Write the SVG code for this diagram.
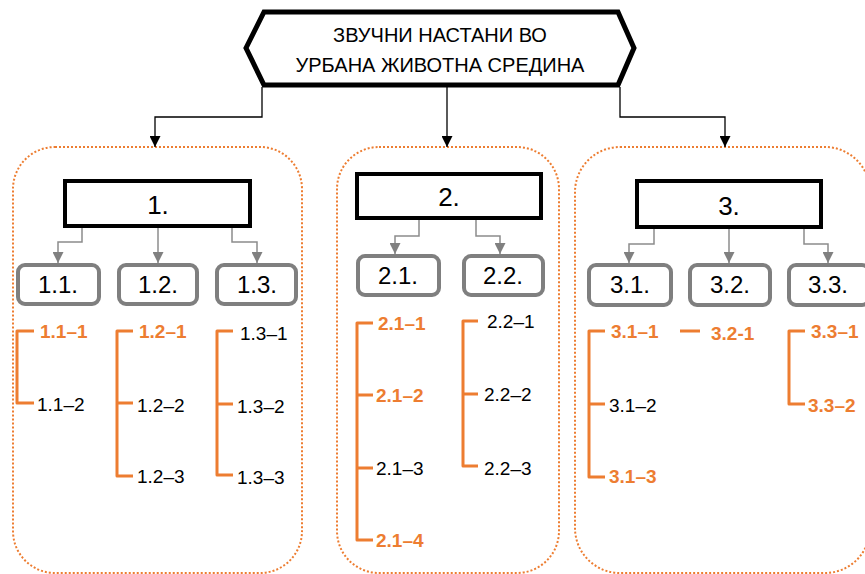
<svg xmlns="http://www.w3.org/2000/svg" width="865" height="574" viewBox="0 0 865 574">
<defs>
<style>
text{font-family:"Liberation Sans",Arial,sans-serif;fill:#000}
.cont{fill:none;stroke:#ED7D31;stroke-width:2;stroke-dasharray:2 2}
.main{fill:#fff;stroke:#000;stroke-width:4}
.sub{fill:#fff;stroke:#7F7F7F;stroke-width:4}
.blk{fill:none;stroke:#000;stroke-width:1.3}
.gry{fill:none;stroke:#8C8C8C;stroke-width:1.5}
.br{fill:none;stroke:#ED7D31;stroke-width:3;stroke-linejoin:round}
.t1{font-size:26px;text-anchor:middle}
.t2{font-size:24px;text-anchor:middle}
.l{font-size:19px}
.o{font-weight:bold;fill:#ED7D31}
</style>
<marker id="ab" viewBox="0 0 10 10" refX="10" refY="5" markerWidth="12" markerHeight="11" markerUnits="userSpaceOnUse" orient="auto"><path d="M0,0 L10,5 L0,10 z" fill="#000"/></marker>
<marker id="ag" viewBox="0 0 10 10" refX="10" refY="5" markerWidth="11" markerHeight="11" markerUnits="userSpaceOnUse" orient="auto"><path d="M0,0 L10,5 L0,10 z" fill="#808080"/></marker>
</defs>
<rect width="865" height="574" fill="#fff"/>
<g id="containers">
<rect class="cont" x="13" y="147" width="289" height="426" rx="42"/>
<rect class="cont" x="337" y="147" width="222" height="426" rx="42"/>
<rect class="cont" x="575" y="147" width="295" height="426" rx="45"/>
</g>
<g id="connectors">
<path class="blk" d="M262,87 V117 H155 V147" marker-end="url(#ab)"/>
<path class="blk" d="M447,87 V147" marker-end="url(#ab)"/>
<path class="blk" d="M620,87 V117 H725 V147" marker-end="url(#ab)"/>
<path class="gry" d="M82,228 V242 H58 V263" marker-end="url(#ag)"/>
<path class="gry" d="M158,228 V263" marker-end="url(#ag)"/>
<path class="gry" d="M232,228 V242 H257 V263" marker-end="url(#ag)"/>
<path class="gry" d="M419,220 V236 H395 V254" marker-end="url(#ag)"/>
<path class="gry" d="M476,220 V236 H500 V254" marker-end="url(#ag)"/>
<path class="gry" d="M654,229 V244 H629 V263" marker-end="url(#ag)"/>
<path class="gry" d="M729,229 V263" marker-end="url(#ag)"/>
<path class="gry" d="M804,229 V244 H828 V263" marker-end="url(#ag)"/>
</g>
<g id="root">
<polygon points="246,48 264,12 618,12 634,48 618,85 264,85" fill="#fff" stroke="#000" stroke-width="5"/>
<text x="440" y="42" font-size="20" text-anchor="middle">ЗВУЧНИ НАСТАНИ ВО</text>
<text x="440" y="72" font-size="20" text-anchor="middle">УРБАНА ЖИВОТНА СРЕДИНА</text>
</g>
<g id="n1"><rect class="main" x="65" y="181" width="185" height="45"/><text class="t1" x="158" y="214">1.</text></g>
<g id="n2"><rect class="main" x="357" y="174" width="184" height="44"/><text class="t1" x="449" y="206">2.</text></g>
<g id="n3"><rect class="main" x="637" y="181" width="184" height="46"/><text class="t1" x="729" y="215">3.</text></g>
<g id="n1-1"><rect class="sub" x="18" y="265" width="81" height="39" rx="7"/><text class="t2" x="58" y="293">1.1.</text></g>
<g id="n1-2"><rect class="sub" x="119" y="265" width="78" height="39" rx="7"/><text class="t2" x="158" y="293">1.2.</text></g>
<g id="n1-3"><rect class="sub" x="217" y="265" width="79" height="39" rx="7"/><text class="t2" x="257" y="293">1.3.</text></g>
<g id="n2-1"><rect class="sub" x="358" y="256" width="81" height="39" rx="7"/><text class="t2" x="398" y="284">2.1.</text></g>
<g id="n2-2"><rect class="sub" x="464" y="256" width="79" height="39" rx="7"/><text class="t2" x="503" y="284">2.2.</text></g>
<g id="n3-1"><rect class="sub" x="589" y="265" width="82" height="40" rx="7"/><text class="t2" x="630" y="293">3.1.</text></g>
<g id="n3-2"><rect class="sub" x="690" y="265" width="80" height="40" rx="7"/><text class="t2" x="730" y="293">3.2.</text></g>
<g id="n3-3"><rect class="sub" x="789" y="265" width="80" height="40" rx="7"/><text class="t2" x="828" y="293">3.3.</text></g>
<g id="brackets">
<path class="br" d="M34,331 H17 V403 H34"/>
<path class="br" d="M133,331 H117 V476 H133 M117,403 H133"/>
<path class="br" d="M233,331 H217 V475 H233 M217,404 H233"/>
<path class="br" d="M373,323 H357 V540 H373 M357,395 H373 M357,468 H373"/>
<path class="br" d="M478,321 H463 V466 H478 M463,394 H478"/>
<path class="br" d="M605,331 H589 V477 H605 M589,404 H605"/>
<path class="br" d="M680,331 H700"/>
<path class="br" d="M805,331 H789 V404 H805"/>
</g>
<g id="items">
<text class="l o" x="40" y="338">1.1–1</text>
<text class="l" x="37" y="411">1.1–2</text>
<text class="l o" x="139" y="338">1.2–1</text>
<text class="l" x="137" y="412">1.2–2</text>
<text class="l" x="137" y="483">1.2–3</text>
<text class="l" x="240" y="340">1.3–1</text>
<text class="l" x="237" y="413">1.3–2</text>
<text class="l" x="237" y="484">1.3–3</text>
<text class="l o" x="378" y="330">2.1–1</text>
<text class="l o" x="376" y="402">2.1–2</text>
<text class="l" x="376" y="475">2.1–3</text>
<text class="l o" x="376" y="547">2.1–4</text>
<text class="l" x="487" y="328">2.2–1</text>
<text class="l" x="484" y="401">2.2–2</text>
<text class="l" x="484" y="475">2.2–3</text>
<text class="l o" x="611" y="338">3.1–1</text>
<text class="l" x="609" y="412">3.1–2</text>
<text class="l o" x="609" y="483">3.1–3</text>
<text class="l o" x="711" y="340">3.2-1</text>
<text class="l o" x="811" y="338">3.3–1</text>
<text class="l o" x="808" y="412">3.3–2</text>
</g>
</svg>
